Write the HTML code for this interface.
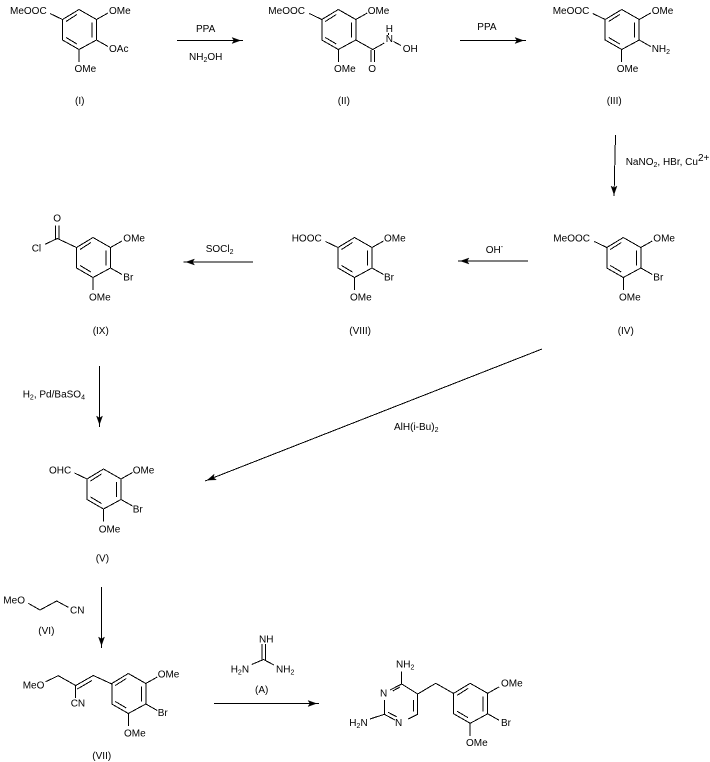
<!DOCTYPE html>
<html>
<head>
<meta charset="utf-8">
<style>
html,body{margin:0;padding:0;background:#fff;width:710px;height:762px;overflow:hidden}
svg{display:block}
text{font-family:"Liberation Sans",sans-serif;font-size:10px;fill:#000}
.s{font-size:7px}
line,polyline{stroke:#000;stroke-width:1;fill:none;shape-rendering:crispEdges}
</style>
</head>
<body>
<svg width="710" height="762" viewBox="0 0 710 762" xmlns="http://www.w3.org/2000/svg">
<defs>
<g id="r">
<polyline points="0,0 17.5,10 17.5,30.5 0,40 -16.5,30.5 -16.5,10 0,0"/>
<line x1="-13" y1="12" x2="-2" y2="5"/>
<line x1="-13" y1="28" x2="-2" y2="34.5"/>
<line x1="13" y1="13" x2="13" y2="28"/>
<line x1="17.5" y1="10" x2="29" y2="3.5"/>
<line x1="0" y1="40" x2="0" y2="52.5"/>
</g>
<line id="br" x1="17.5" y1="30.5" x2="29" y2="37"/>
<line id="ml" x1="-16.5" y1="10" x2="-29" y2="4"/>
<polygon id="ah" points="-2.5,0 -11,-3 -9,0 -11,3" fill="#000" stroke="#000" stroke-width="0.4"/>
</defs>

<!-- I -->
<use href="#r" x="79" y="9.5"/><use href="#br" x="79" y="9.5"/><use href="#ml" x="79" y="9.5"/>
<text x="10" y="14">MeOOC</text><text x="109" y="14">OMe</text><text x="109" y="52">OAc</text><text x="74.5" y="72">OMe</text><text x="75" y="104">(I)</text>

<!-- arrow 1 -->
<line x1="177" y1="40.5" x2="243" y2="40.5"/><use href="#ah" x="243" y="40.5"/>
<text x="196" y="32">PPA</text>
<text x="189" y="60">NH<tspan class="s" dy="2">2</tspan><tspan dy="-2">OH</tspan></text>

<!-- II -->
<use href="#r" x="338.3" y="9.5"/><use href="#ml" x="338.3" y="9.5"/>
<text x="268.3" y="14">MeOOC</text><text x="367.7" y="14">OMe</text><text x="334" y="72">OMe</text>
<polyline points="355.8,40 372.7,49.5 384.3,43"/>
<line x1="371" y1="50" x2="371" y2="62"/><line x1="374.5" y1="50" x2="374.5" y2="62"/>
<line x1="393.5" y1="41.5" x2="401" y2="45.5"/>
<line x1="388.5" y1="33" x2="388.5" y2="35"/>
<text x="385.7" y="32">H</text><text x="385.7" y="42">N</text><text x="402.7" y="52">OH</text><text x="368.3" y="72">O</text>
<text x="337.7" y="104">(II)</text>

<!-- arrow 2 -->
<line x1="460" y1="40.5" x2="526" y2="40.5"/><use href="#ah" x="526" y="40.5"/>
<text x="477.3" y="30">PPA</text>

<!-- III -->
<use href="#r" x="621.7" y="9.5"/><use href="#br" x="621.7" y="9.5"/><use href="#ml" x="621.7" y="9.5"/>
<text x="552.7" y="14">MeOOC</text><text x="651.7" y="14">OMe</text>
<text x="651.7" y="52">NH<tspan class="s" dy="2">2</tspan></text>
<text x="616.7" y="72">OMe</text><text x="606.7" y="104">(III)</text>

<!-- arrow 3 -->
<line x1="615.5" y1="135" x2="614" y2="196"/><use href="#ah" transform="translate(614,197) rotate(90)"/>
<text x="625.7" y="165">NaNO<tspan class="s" dy="2">2</tspan><tspan dy="-2">, HBr, Cu</tspan><tspan dy="-4" font-size="10">2+</tspan></text>

<!-- IV -->
<use href="#r" x="623.3" y="237.5"/><use href="#br" x="623.3" y="237.5"/><use href="#ml" x="623.3" y="237.5"/>
<text x="553.3" y="241.7">MeOOC</text><text x="653.3" y="241.7">OMe</text><text x="653.3" y="280.5">Br</text><text x="619" y="300.5">OMe</text><text x="617.7" y="334">(IV)</text>

<!-- arrow 4 -->
<line x1="528" y1="261" x2="458" y2="261"/><use href="#ah" transform="translate(458,261) rotate(180)"/>
<text x="485.7" y="253">OH<tspan class="s" dy="-4">-</tspan></text>

<!-- VIII -->
<use href="#r" x="354.5" y="237.5"/><use href="#br" x="354.5" y="237.5"/><use href="#ml" x="354.5" y="237.5"/>
<text x="291.7" y="241.7">HOOC</text><text x="384" y="241.7">OMe</text><text x="384" y="280.5">Br</text><text x="350" y="300.5">OMe</text><text x="349.3" y="334">(VIII)</text>

<!-- arrow 5 -->
<line x1="253" y1="262" x2="183.5" y2="262"/><use href="#ah" transform="translate(183.5,262) rotate(180)"/>
<text x="205.7" y="252">SOCl<tspan class="s" dy="2">2</tspan></text>

<!-- IX -->
<use href="#r" x="93" y="237.5"/><use href="#br" x="93" y="237.5"/>
<polyline points="76.5,247.5 57.3,238.5 45,244.3"/>
<line x1="55.7" y1="225.5" x2="55.7" y2="239"/><line x1="59" y1="225.5" x2="59" y2="239"/>
<text x="53.3" y="221.5">O</text><text x="31.7" y="251.7">Cl</text><text x="123.3" y="241.7">OMe</text><text x="123.3" y="280.5">Br</text><text x="89" y="300.5">OMe</text><text x="92.7" y="334">(IX)</text>

<!-- arrow 6 -->
<line x1="99.5" y1="366" x2="99.5" y2="427"/><use href="#ah" transform="translate(99.5,427) rotate(90)"/>
<text x="22.7" y="397.5">H<tspan class="s" dy="2">2</tspan><tspan dy="-2">, Pd/BaSO</tspan><tspan class="s" dy="2">4</tspan></text>

<!-- arrow 7 -->
<line x1="542" y1="349" x2="205" y2="481"/><use href="#ah" transform="translate(205,481) rotate(158.6)"/>
<text x="394" y="430">AlH(i-Bu)<tspan class="s" dy="2">2</tspan></text>

<!-- V -->
<use href="#r" x="103.5" y="469"/><use href="#br" x="103.5" y="469"/><use href="#ml" x="103.5" y="469"/>
<text x="49" y="473.3">OHC</text><text x="132.7" y="473.3">OMe</text><text x="132.7" y="512.5">Br</text><text x="98.7" y="532.5">OMe</text><text x="95.7" y="561.5">(V)</text>

<!-- VI -->
<polyline points="28.3,603.3 40,610 56.7,601 68.3,607.3"/>
<text x="3.3" y="603.3">MeO</text><text x="70" y="613.3">CN</text><text x="38.3" y="634">(VI)</text>

<!-- arrow 8 -->
<line x1="101.5" y1="587" x2="101.5" y2="648"/><use href="#ah" transform="translate(101.5,648) rotate(90)"/>

<!-- VII -->
<use href="#r" x="128.3" y="673.5"/><use href="#br" x="128.3" y="673.5"/>
<polyline points="45.7,681.7 58.3,675.7 75.7,685.5 93.3,675.5 111.8,684"/>
<line x1="77.3" y1="689" x2="92" y2="680.5"/>
<line x1="75.7" y1="685.5" x2="75.7" y2="698"/>
<text x="22.7" y="688.3">MeO</text><text x="70.7" y="706.7">CN</text><text x="157.7" y="677.5">OMe</text><text x="157.7" y="716">Br</text><text x="124" y="736.5">OMe</text><text x="92.3" y="759">(VII)</text>

<!-- A -->
<line x1="262" y1="644" x2="262" y2="660"/><line x1="265.5" y1="644" x2="265.5" y2="660"/>
<polyline points="251.7,664.5 263.5,659.5 274,665"/>
<text x="259" y="642.3">NH</text>
<text x="230.7" y="672.7">H<tspan class="s" dy="2">2</tspan><tspan dy="-2">N</tspan></text>
<text x="276" y="672.7">NH<tspan class="s" dy="2">2</tspan></text>
<text x="255" y="693">(A)</text>

<!-- arrow 9 -->
<line x1="214" y1="703.5" x2="319" y2="703.5"/><use href="#ah" x="319" y="703.5"/>

<!-- final -->
<use href="#r" x="470.2" y="683.3"/><use href="#br" x="470.2" y="683.3"/>
<line x1="401.7" y1="671.7" x2="401.7" y2="684"/>
<polyline points="390,690 401.7,684 417.7,694 417.7,714.3 408.3,719"/>
<line x1="392.7" y1="691" x2="400" y2="687"/>
<line x1="413.3" y1="700" x2="413.3" y2="711.7"/>
<polyline points="384.3,700 384.3,714.3 395,720"/>
<line x1="388" y1="712.3" x2="396.7" y2="716.7"/>
<line x1="370" y1="719" x2="384.3" y2="714.3"/>
<polyline points="417.7,694 435.7,683.3 453.7,693.5"/>
<text x="396" y="667.3">NH<tspan class="s" dy="2">2</tspan></text>
<text x="380" y="696.7">N</text><text x="395" y="726">N</text>
<text x="349.3" y="726">H<tspan class="s" dy="2">2</tspan><tspan dy="-2">N</tspan></text>
<text x="501" y="686.7">OMe</text><text x="501" y="726">Br</text><text x="466" y="746">OMe</text>
</svg>
</body>
</html>
